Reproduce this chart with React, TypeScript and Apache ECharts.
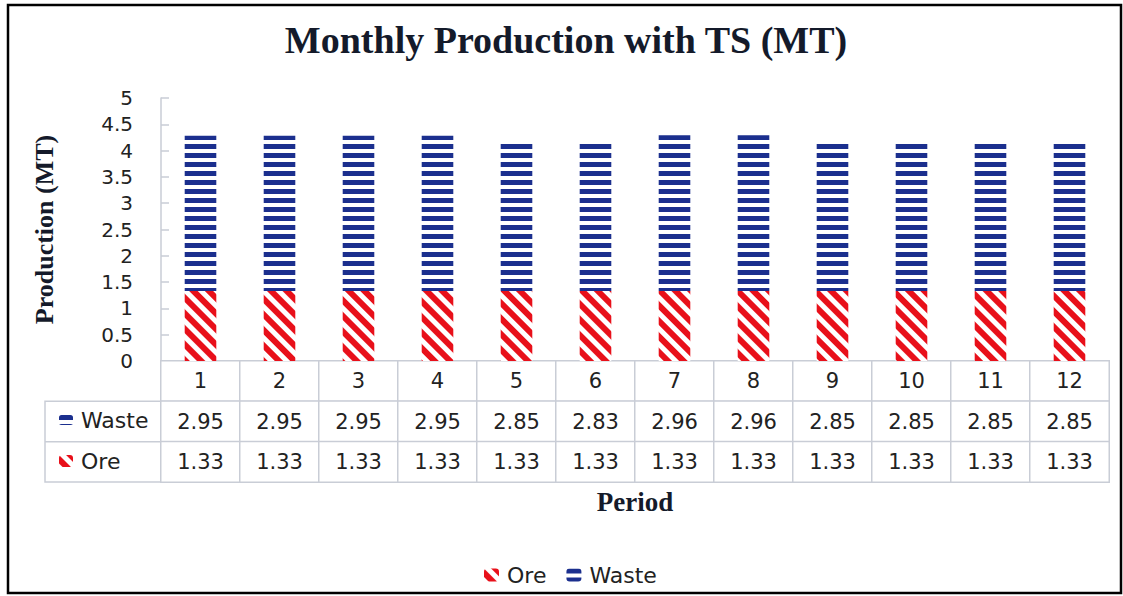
import React, { useEffect, useRef } from "react";
import * as echarts from "echarts";

const periods = ["1", "2", "3", "4", "5", "6", "7", "8", "9", "10", "11", "12"];
const wasteValues = [2.95, 2.95, 2.95, 2.95, 2.85, 2.83, 2.96, 2.96, 2.85, 2.85, 2.85, 2.85];
const oreValues = [1.33, 1.33, 1.33, 1.33, 1.33, 1.33, 1.33, 1.33, 1.33, 1.33, 1.33, 1.33];
const tableRows = ["Period", "Waste", "Ore"];
const yTicks = { min: 0, max: 5, interval: 0.5 };

const NAVY = "#1b2f8e";
const RED = "#e8101a";
const GRID_LINE = "#c9cdd6";
const TEXT = "#222222";
const SANS = "DejaVu Sans";
const SERIF = "Liberation Serif";

export default function App() {
  const ref = useRef<HTMLDivElement>(null);

  useEffect(() => {
    if (!ref.current) return;
    const chart = echarts.init(ref.current, undefined, { renderer: "svg" });

    const tableData: any[] = [];
    periods.forEach((p, i) => {
      tableData.push([i, 0, Number(p)]);
      tableData.push([i, 1, wasteValues[i]]);
      tableData.push([i, 2, oreValues[i]]);
    });

    const gridLeft = 161;
    const gridWidth = 948;

    const option: any = {
      animation: false,
      backgroundColor: "#ffffff",
      title: {
        text: "Monthly Production with TS (MT)",
        left: 566,
        textAlign: "center",
        top: 21,
        padding: 0,
        textStyle: { fontFamily: SERIF, fontWeight: "bold", fontSize: 38, color: "#141a2a" },
      },
      grid: [
        { left: gridLeft, top: 98, width: gridWidth, height: 263 },
        { left: gridLeft, top: 361, width: gridWidth, height: 121 },
      ],
      xAxis: [
        {
          type: "category",
          gridIndex: 0,
          data: periods,
          axisLine: { show: true, lineStyle: { color: GRID_LINE, width: 1 } },
          axisTick: { show: false },
          axisLabel: { show: false },
        },
        {
          type: "category",
          gridIndex: 1,
          data: periods,
          position: "bottom",
          axisLine: { show: false },
          axisTick: { show: false },
          axisLabel: { show: false },
          splitLine: { show: false },
          name: "Period",
          nameLocation: "middle",
          nameGap: 6,
          nameTextStyle: {
            fontFamily: SERIF,
            fontWeight: "bold",
            fontSize: 27,
            color: "#141a2a",
            verticalAlign: "top",
          },
        },
      ],
      yAxis: [
        {
          type: "value",
          gridIndex: 0,
          min: yTicks.min,
          max: yTicks.max,
          interval: yTicks.interval,
          axisLine: { show: true, lineStyle: { color: GRID_LINE, width: 1.5 } },
          axisTick: { show: true, inside: true, length: 8, lineStyle: { color: GRID_LINE, width: 1.5 } },
          splitLine: { show: false },
          axisLabel: { margin: 28, fontFamily: SANS, fontSize: 20, color: TEXT },
          name: "Production (MT)",
          nameLocation: "middle",
          nameRotate: 90,
          nameGap: 104,
          nameTextStyle: { fontFamily: SERIF, fontWeight: "bold", fontSize: 26, color: "#141a2a" },
        },
        {
          type: "category",
          gridIndex: 1,
          data: tableRows,
          inverse: true,
          axisLine: { show: false },
          axisTick: { show: false },
          axisLabel: { show: false },
        },
      ],
      visualMap: {
        show: false,
        seriesIndex: 2,
        min: 0,
        max: 100,
        dimension: 2,
        inRange: { color: ["#ffffff", "#ffffff"] },
      },
      legend: [
        {
          data: ["Ore", "Waste"],
          left: 479,
          top: 559,
          itemWidth: 15,
          itemHeight: 13,
          itemGap: 20,
          selectedMode: false,
          textStyle: { fontFamily: SANS, fontSize: 22, color: TEXT, padding: [0, 0, 0, 3] },
        },
        {
          data: ["Waste"],
          left: 54,
          top: 404,
          itemWidth: 14,
          itemHeight: 10,
          selectedMode: false,
          textStyle: { fontFamily: SANS, fontSize: 22, color: TEXT, padding: [0, 0, 0, 3] },
        },
        {
          data: ["Ore"],
          left: 54,
          top: 445,
          itemWidth: 14,
          itemHeight: 12,
          selectedMode: false,
          textStyle: { fontFamily: SANS, fontSize: 22, color: TEXT, padding: [0, 0, 0, 3] },
        },
      ],
      series: [
        {
          name: "Ore",
          type: "bar",
          stack: "total",
          xAxisIndex: 0,
          yAxisIndex: 0,
          barWidth: "40%",
          data: oreValues,
          itemStyle: {
            color: "#ffffff",
            decal: {
              symbol: "rect",
              symbolSize: 1,
              color: RED,
              dashArrayX: [10, 0],
              dashArrayY: [5.5, 5],
              rotation: Math.PI / 4,
            },
          },
        },
        {
          name: "Waste",
          type: "bar",
          stack: "total",
          xAxisIndex: 0,
          yAxisIndex: 0,
          barWidth: "40%",
          data: wasteValues,
          itemStyle: {
            color: "#ffffff",
            decal: {
              symbol: "rect",
              symbolSize: 1,
              color: NAVY,
              dashArrayX: [10, 0],
              dashArrayY: [4.6, 4],
              rotation: 0,
            },
          },
        },
        {
          name: "table",
          type: "heatmap",
          xAxisIndex: 1,
          yAxisIndex: 1,
          data: tableData,
          itemStyle: { color: "#ffffff", borderColor: GRID_LINE, borderWidth: 1.5 },
          emphasis: { disabled: true },
          label: {
            show: true,
            fontFamily: SANS,
            fontSize: 21,
            color: TEXT,
            formatter: (p: any) => (p.data[1] === 0 ? String(p.data[2]) : Number(p.data[2]).toFixed(2)),
          },
        },
      ],
      graphic: [
        {
          type: "rect",
          shape: { x: 8, y: 5, width: 1113, height: 588 },
          style: { fill: "none", stroke: "#000000", lineWidth: 2.5 },
          silent: true,
        },
        {
          type: "rect",
          shape: { x: 45, y: 361 + 121 / 3, width: gridLeft - 45, height: (121 * 2) / 3 },
          style: { fill: "none", stroke: GRID_LINE, lineWidth: 1.5 },
          silent: true,
        },
        {
          type: "line",
          shape: { x1: 45, y1: 361 + (121 * 2) / 3, x2: gridLeft, y2: 361 + (121 * 2) / 3 },
          style: { stroke: GRID_LINE, lineWidth: 1.5 },
          silent: true,
        },
      ],
    };

    chart.setOption(option);
    return () => chart.dispose();
  }, []);

  return (
    <div
      ref={ref}
      style={{ position: "absolute", left: 0, top: 0, width: 1123, height: 596 }}
    />
  );
}
